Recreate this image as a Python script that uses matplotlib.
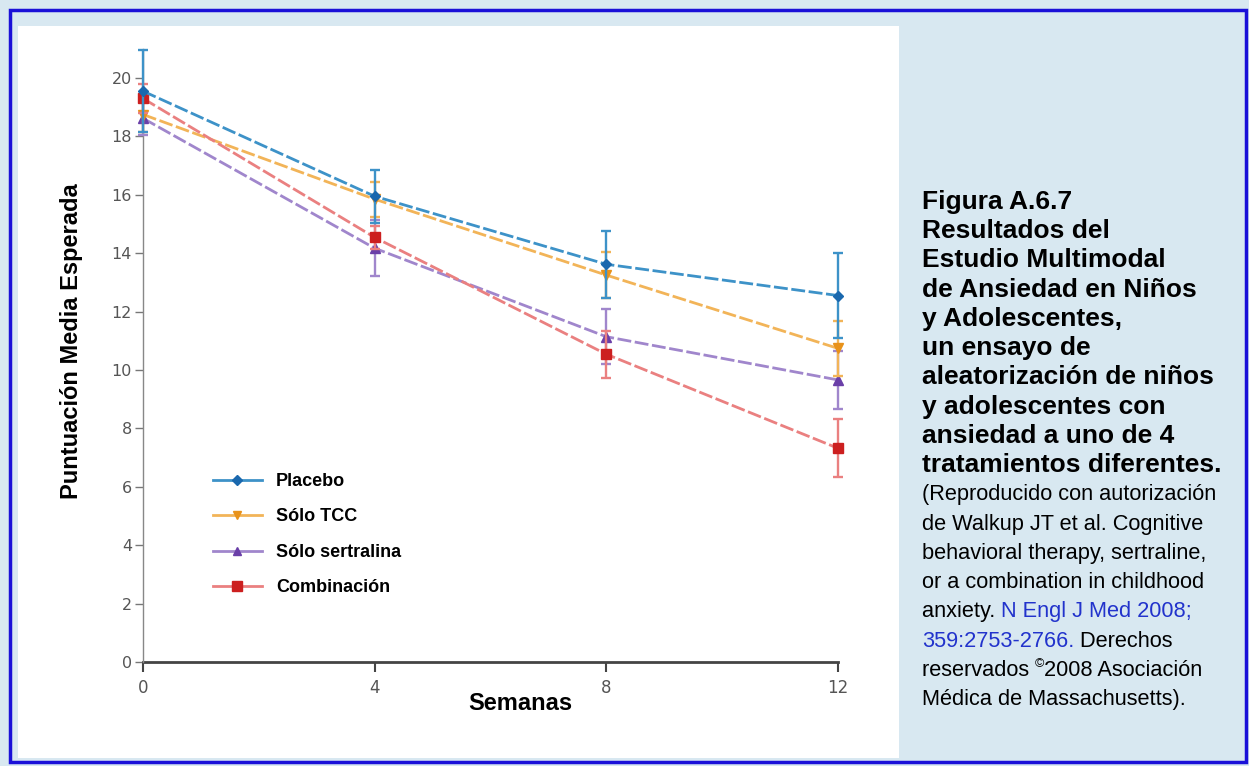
import matplotlib.pyplot as plt
from matplotlib import font_manager
from matplotlib.lines import Line2D
from matplotlib.patches import Rectangle

W, H = 1249, 766

weeks = [0, 4, 8, 12]
groups = ["Placebo", "Sólo TCC", "Sólo sertralina", "Combinación"]
placebo = [19.55, 15.95, 13.62, 12.55]
tcc = [18.75, 15.85, 13.25, 10.74]
sertralina = [18.62, 14.17, 11.14, 9.66]
combinacion = [19.3, 14.54, 10.54, 7.32]
placebo_err = [1.4, 0.9, 1.15, 1.45]
tcc_err = [0.6, 0.6, 0.8, 0.95]
sertralina_err = [0.57, 0.95, 0.94, 1.0]
combinacion_err = [0.5, 0.4, 0.8, 1.0]

yticks = list(range(0, 21, 2))

caption_bold = [
    "Figura A.6.7",
    "Resultados del",
    "Estudio Multimodal",
    "de Ansiedad en Niños",
    "y Adolescentes,",
    "un ensayo de",
    "aleatorización de niños",
    "y adolescentes con",
    "ansiedad a uno de 4",
    "tratamientos diferentes.",
]
# each line is a list of (text, colour) pieces
caption_plain = [
    [("(Reproducido con autorización", "black")],
    [("de Walkup JT et al. Cognitive", "black")],
    [("behavioral therapy, sertraline,", "black")],
    [("or a combination in childhood", "black")],
    [("anxiety. ", "black"), ("N Engl J Med 2008;", "#2233cc")],
    [("359:2753-2766.", "#2233cc"), (" Derechos", "black")],
    [("reservados ", "black"), ("©", "sup"), ("2008 Asociación", "black")],
    [("Médica de Massachusetts).", "black")],
]


def px(x, y):
    return x / W, 1 - y / H


fig = plt.figure(figsize=(W / 100, H / 100), dpi=100)
fig.patch.set_facecolor("#d8e8f1")

# outer blue frame and white chart panel (kept behind the axes)
fig.add_artist(Rectangle(px(10, 762), 1236 / W, 752 / H, transform=fig.transFigure,
                         fill=False, edgecolor="#1a10d8", linewidth=2.5, zorder=-2))
fig.add_artist(Rectangle(px(18, 758), 881 / W, 732 / H, transform=fig.transFigure,
                         facecolor="white", edgecolor="none", zorder=-1))

x0, x1 = 143, 838
y0, y20 = 662, 78
ytop = y0 - (y0 - y20) * 21 / 20
left, bottom = px(x0, y0)
ax = fig.add_axes([left, bottom, (x1 - x0) / W, (y0 - ytop) / H])
ax.set_facecolor("none")

# line colour, marker colour, marker, size, stacking order
styles = [
    ("#3d92c8", "#1a68ae", "D", 5.5, 6),
    ("#f2b458", "#e8921a", "v", 6.5, 4),
    ("#a086cc", "#6a3fa8", "^", 6.5, 3),
    ("#ea8080", "#cc1f1f", "s", 7.5, 5),
]
dash = (0, (5, 1.3))
handles = []
for vals, err, (lc, mc, mk, ms, z), name in zip(
        [placebo, tcc, sertralina, combinacion],
        [placebo_err, tcc_err, sertralina_err, combinacion_err], styles, groups):
    lines = ax.errorbar(weeks, vals, yerr=err, color=lc, ecolor=lc, linestyle=dash,
                        linewidth=2, marker=mk, markersize=ms, markerfacecolor=mc,
                        markeredgecolor=mc, capsize=3.5, elinewidth=1.7, capthick=1.7,
                        zorder=z)
    for art in lines.get_children():
        art.set_clip_on(False)
    handles.append(Line2D([], [], color=lc, linewidth=2, marker=mk, markersize=ms - 0.5,
                          markerfacecolor=mc, markeredgecolor=mc, label=name))

ax.set_xlim(0, 12)
ax.set_ylim(0, 21)
ax.set_xticks(weeks)
ax.set_yticks(yticks)
ax.tick_params(axis="y", direction="out", length=6, width=1, colors="#777777",
               labelcolor="#555555", labelsize=11.5, pad=2)
ax.tick_params(axis="x", direction="out", length=7, width=1.5, colors="#444444",
               labelcolor="#555555", labelsize=12, pad=5)
for s in ["top", "right"]:
    ax.spines[s].set_visible(False)
ax.spines["left"].set_color("#888888")
ax.spines["left"].set_linewidth(1)
ax.spines["bottom"].set_color("#444444")
ax.spines["bottom"].set_linewidth(2)
ax.spines["bottom"].set_zorder(2)

ax.legend(handles=handles, loc="upper left", bbox_to_anchor=px(213, 473),
          bbox_transform=fig.transFigure, frameon=False, borderpad=0,
          borderaxespad=0, handlelength=2.7, handletextpad=0.8, labelspacing=1.02,
          prop={"weight": "bold", "size": 13, "family": "Liberation Sans"})

fig.text(*px(520, 704), "Semanas", ha="center", va="center", fontsize=17,
         fontweight="bold", family="Liberation Sans")
fig.text(*px(72, 341), "Puntuación Media Esperada", ha="center", va="center",
         rotation=90, fontsize=17, fontweight="bold", family="Liberation Sans")

# caption on the right
tx = 922
ly = 201.7
step = 29.3
for line in caption_bold:
    fig.text(*px(tx, ly), line, ha="left", va="center", fontsize=19,
             fontweight="bold", family="Liberation Sans")
    ly += step

names = {f.name for f in font_manager.fontManager.ttflist}
if "Liberation Sans Narrow" in names:
    plain_family, plain_size = ["Liberation Sans Narrow", "DejaVu Sans"], 19
else:
    plain_family, plain_size = ["Liberation Sans", "DejaVu Sans"], 15.7

renderer = fig.canvas.get_renderer()
for line in caption_plain:
    cur = tx
    for text, col in line:
        if col == "sup":
            t = fig.text(*px(cur, ly - 6), text, ha="left", va="center", fontsize=9,
                         family=plain_family, color="black")
        else:
            t = fig.text(*px(cur, ly), text, ha="left", va="center", fontsize=plain_size,
                         family=plain_family, color=col)
        cur = t.get_window_extent(renderer).x1
    ly += step

fig.savefig("out.png", dpi=100, facecolor=fig.get_facecolor())
